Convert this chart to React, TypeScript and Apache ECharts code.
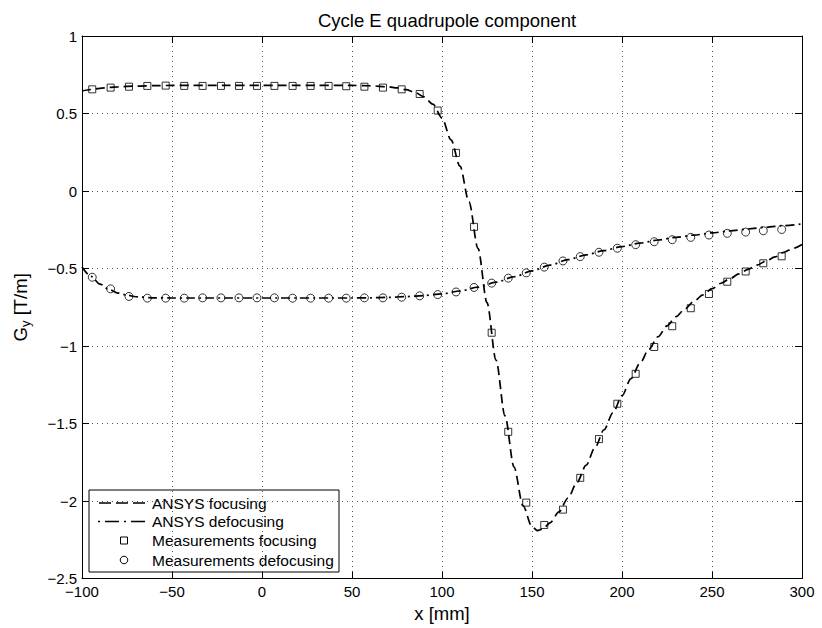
import React, { useEffect, useRef } from "react";
import * as echarts from "echarts";

// ---- data ----
const measX = [-94.3, -84.1, -73.9, -63.7, -53.5, -43.2, -33.0, -22.8, -12.8, -2.8, 6.9, 17.0, 27.0, 37.0, 46.8, 56.9, 67.2, 77.6, 87.6, 97.6, 107.8, 117.8, 127.6, 136.8, 146.8, 156.8, 167.2, 176.8, 187.2, 197.4, 207.6, 217.9, 227.9, 238.2, 248.3, 258.5, 268.7, 278.5, 288.7];
const measFocY = [0.656, 0.667, 0.673, 0.678, 0.68, 0.678, 0.678, 0.678, 0.678, 0.678, 0.678, 0.678, 0.678, 0.678, 0.676, 0.673, 0.667, 0.656, 0.626, 0.519, 0.246, -0.231, -0.914, -1.553, -2.01, -2.154, -2.055, -1.85, -1.6, -1.372, -1.179, -1.006, -0.872, -0.756, -0.664, -0.585, -0.519, -0.466, -0.421];
const measDefY = [-0.556, -0.631, -0.68, -0.691, -0.691, -0.691, -0.689, -0.689, -0.689, -0.689, -0.689, -0.691, -0.691, -0.691, -0.691, -0.689, -0.689, -0.685, -0.676, -0.668, -0.651, -0.622, -0.594, -0.562, -0.528, -0.491, -0.451, -0.423, -0.395, -0.369, -0.346, -0.327, -0.314, -0.299, -0.284, -0.273, -0.265, -0.256, -0.248];

const ansysFocX = [-100, -95, -90, -85, -80, -70, -60, -50, -40, -30, -20, -10, 0, 10, 20, 30, 40, 50, 60, 70, 75, 80, 85, 90, 95, 100, 105, 110, 115, 120, 125, 130, 135, 140, 145, 150, 153, 156, 160, 165, 170, 175, 180, 185, 190, 195, 200, 205, 210, 215, 220, 225, 230, 235, 240, 245, 250, 255, 260, 265, 270, 275, 280, 285, 290, 295, 300];
const ansysFocY = [0.645, 0.655, 0.662, 0.668, 0.672, 0.677, 0.68, 0.681, 0.681, 0.681, 0.681, 0.681, 0.681, 0.681, 0.681, 0.681, 0.681, 0.681, 0.679, 0.672, 0.665, 0.654, 0.637, 0.607, 0.56, 0.47, 0.33, 0.16, -0.07, -0.37, -0.72, -1.09, -1.45, -1.78, -2.03, -2.165, -2.19, -2.18, -2.14, -2.07, -1.98, -1.88, -1.77, -1.655, -1.54, -1.43, -1.32, -1.21, -1.11, -1.02, -0.94, -0.87, -0.81, -0.76, -0.71, -0.67, -0.63, -0.595, -0.565, -0.535, -0.505, -0.478, -0.452, -0.425, -0.395, -0.37, -0.345];

const ansysDefX = [-100, -95, -90, -85, -80, -75, -70, -60, -50, -40, -30, -20, -10, 0, 10, 20, 30, 40, 50, 60, 70, 80, 90, 100, 110, 120, 130, 140, 150, 160, 170, 180, 190, 200, 210, 220, 230, 240, 250, 260, 270, 280, 290, 300];
const ansysDefY = [-0.49, -0.55, -0.6, -0.635, -0.658, -0.672, -0.682, -0.689, -0.69, -0.69, -0.69, -0.69, -0.69, -0.69, -0.69, -0.69, -0.69, -0.69, -0.69, -0.689, -0.686, -0.681, -0.674, -0.663, -0.645, -0.62, -0.588, -0.553, -0.515, -0.478, -0.443, -0.412, -0.384, -0.358, -0.336, -0.316, -0.299, -0.284, -0.27, -0.257, -0.245, -0.234, -0.223, -0.212];

const legendNames = ["ANSYS focusing", "ANSYS defocusing", "Measurements focusing", "Measurements defocusing"];
const titleText = "Cycle E quadrupole component";
const xName = "x [mm]";

const FONT = "'Liberation Sans', Arial, Helvetica, sans-serif";

const zip = (xs: number[], ys: number[]) => xs.map((x, i) => [x, ys[i]]);
const fmt = (v: number) => String(v).replace("-", "\u2212");

export default function App() {
  const ref = useRef<HTMLDivElement>(null);
  useEffect(() => {
    if (!ref.current) return;
    const chart = echarts.init(ref.current, undefined, { renderer: "svg" });
    const axisLine = { show: true, onZero: false, lineStyle: { color: "#000", width: 1 } };
    const tick = { show: true, inside: true, length: 7, lineStyle: { color: "#000", width: 1 } };
    const split = { show: true, lineStyle: { color: "#555", width: 1, type: [1, 4] } };
    const lgX = 89, lgY = 490, lgW = 250, lgH = 82;
    const rowY = [503, 521.5, 540.5, 560];
    chart.setOption({
      animation: false,
      backgroundColor: "#fff",
      textStyle: { fontFamily: FONT },
      title: {
        text: titleText,
        left: 442,
        textAlign: "center",
        top: 6,
        textStyle: { fontFamily: FONT, fontSize: 18.5, fontWeight: "normal", color: "#000" },
      },
      grid: { left: 82, right: 20, top: 36, bottom: 47, containLabel: false },
      xAxis: [
        {
          type: "value", min: -100, max: 300, interval: 50, position: "bottom",
          axisLine, axisTick: tick, splitLine: split,
          axisLabel: { color: "#000", fontSize: 15, lineHeight: 12, fontFamily: FONT, margin: 7, formatter: fmt },
          name: xName, nameLocation: "middle", nameGap: 23,
          nameTextStyle: { color: "#000", fontSize: 18.5, fontFamily: FONT },
        },
        {
          type: "value", min: -100, max: 300, interval: 50, position: "top",
          axisLine, axisTick: tick, splitLine: { show: false }, axisLabel: { show: false },
        },
      ],
      yAxis: [
        {
          type: "value", min: -2.5, max: 1, interval: 0.5, position: "left",
          axisLine, axisTick: tick, splitLine: split,
          axisLabel: { color: "#000", fontSize: 15, lineHeight: 12, fontFamily: FONT, margin: 5, formatter: fmt },
          name: "{g|G}{s|y}{g| [T/m]}", nameLocation: "middle", nameGap: 50,
          nameTextStyle: {
            color: "#000",
            rich: {
              g: { fontSize: 18.5, fontFamily: FONT, color: "#000" },
              s: { fontSize: 13, fontFamily: FONT, color: "#000", padding: [10, 0, 0, 0] },
            },
          },
        },
        {
          type: "value", min: -2.5, max: 1, interval: 0.5, position: "right",
          axisLine, axisTick: tick, splitLine: { show: false }, axisLabel: { show: false },
        },
      ],
      series: [
        {
          name: legendNames[2], type: "scatter", xAxisIndex: 0, yAxisIndex: 0,
          data: zip(measX, measFocY), symbol: "rect", symbolSize: 7,
          itemStyle: { color: "rgba(0,0,0,0)", borderColor: "#000", borderWidth: 1 },
          z: 3,
        },
        {
          name: legendNames[3], type: "scatter", xAxisIndex: 0, yAxisIndex: 0,
          data: zip(measX, measDefY), symbol: "circle", symbolSize: 8,
          itemStyle: { color: "rgba(0,0,0,0)", borderColor: "#000", borderWidth: 1 },
          z: 3,
        },
        {
          name: legendNames[0], type: "line", xAxisIndex: 0, yAxisIndex: 0,
          data: zip(ansysFocX, ansysFocY), showSymbol: false, smooth: 0.3, smoothMonotone: "x",
          lineStyle: { color: "#000", width: 1.7, type: [9, 5] },
          z: 4,
        },
        {
          name: legendNames[1], type: "line", xAxisIndex: 0, yAxisIndex: 0,
          data: zip(ansysDefX, ansysDefY), showSymbol: false, smooth: 0.3, smoothMonotone: "x",
          lineStyle: { color: "#000", width: 1.7, type: [9, 4, 2, 4] },
          z: 4,
        },
      ],
      graphic: [
        {
          type: "group", z: 100,
          children: [
            { type: "rect", shape: { x: lgX, y: lgY, width: lgW, height: lgH }, style: { fill: "#fff", stroke: "#000", lineWidth: 1 } },
            { type: "line", shape: { x1: 99, y1: rowY[0], x2: 146, y2: rowY[0] }, style: { stroke: "#000", lineWidth: 1.7, lineDash: [12, 5] } },
            { type: "line", shape: { x1: 98, y1: rowY[1], x2: 148, y2: rowY[1] }, style: { stroke: "#000", lineWidth: 1.7, lineDash: [2, 5, 14, 5] } },
            { type: "rect", shape: { x: 120.5, y: rowY[2] - 3.5, width: 7, height: 7 }, style: { fill: "none", stroke: "#000", lineWidth: 1 } },
            { type: "circle", shape: { cx: 124, cy: rowY[3], r: 3.8 }, style: { fill: "none", stroke: "#000", lineWidth: 1 } },
            ...legendNames.map((t, i) => ({
              type: "text",
              style: { text: t, x: 152, y: rowY[i], fill: "#000", font: `15.5px ${FONT}`, fontSize: 15.5, fontFamily: FONT, align: "left", verticalAlign: "middle" },
            })),
          ],
        },
      ],
    });
    return () => chart.dispose();
  }, []);
  return <div ref={ref} style={{ position: "fixed", left: 0, top: 0, width: 822, height: 628, background: "#fff" }} />;
}
